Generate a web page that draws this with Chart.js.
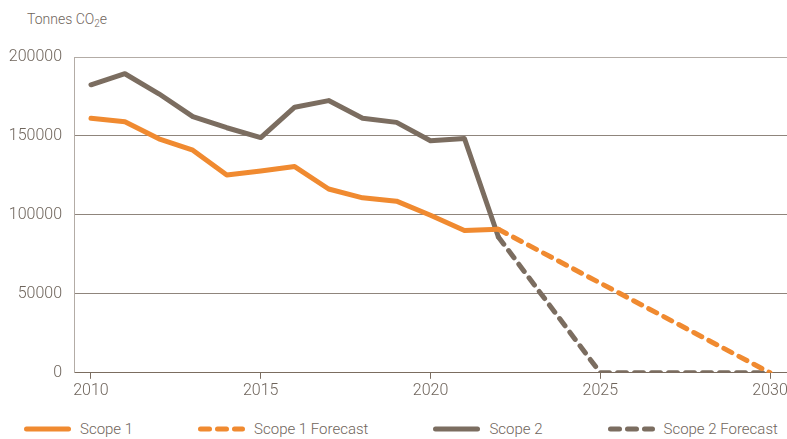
<!DOCTYPE html>
<html>
<head>
<meta charset="utf-8">
<script src="https://cdn.jsdelivr.net/npm/chart.js@4.4.1/dist/chart.umd.min.js"></script>
<style>
  body { margin: 0; background: #fff; }
  #wrap { position: relative; width: 787px; height: 439px; overflow: hidden; font-family: Roboto, sans-serif; font-weight: 300; color: #6f655c; }
  #chart { position: absolute; left: 0; top: 0; }
  #unit { position: absolute; left: 27px; top: 11px; font-size: 14px; white-space: nowrap; }
  #unit sub { font-size: 10px; vertical-align: -3px; }
  #legend { position: absolute; left: 24px; top: 420px; display: flex; gap: 65px; align-items: center; font-size: 15px; white-space: nowrap; }
  .item { display: flex; align-items: center; gap: 9px; }
</style>
</head>
<body>
<div id="wrap">
  <div id="unit">Tonnes CO<sub>2</sub>e</div>
  <canvas id="chart" width="787" height="404"></canvas>
  <div id="legend"></div>
</div>
<script>
const years = [2010, 2011, 2012, 2013, 2014, 2015, 2016, 2017, 2018, 2019, 2020, 2021, 2022];
const scope1 = [161200, 159000, 148200, 141000, 125300, 127800, 130600, 116400, 110800, 108700, 99800, 90100, 90900];
const scope2 = [182400, 189400, 176700, 162200, 155200, 149000, 168200, 172400, 161200, 158600, 147000, 148400, 86000];
const scope1ForecastYears = [2022, 2030];
const scope1Forecast = [90900, 0];
const scope2ForecastYears = [2022, 2025, 2030];
const scope2Forecast = [86000, 0, 0];
const xTicks = [2010, 2015, 2020, 2025, 2030];
const yTicks = [0, 50000, 100000, 150000, 200000];

const orange = "#f08a30";
const brown = "#7b6d60";
const textColor = "#6f655c";

const toPoints = (xs, ys) => xs.map((x, i) => ({ x: x, y: ys[i] }));

const lineStyle = (color, dashed) => ({
  borderColor: color,
  backgroundColor: color,
  borderWidth: 5,
  borderDash: dashed ? [9, 8] : [],
  borderCapStyle: "round",
  borderJoinStyle: "round",
  pointRadius: 0,
  pointHoverRadius: 0,
  tension: 0,
  fill: false,
});

// html legend built from the datasets
const htmlLegend = {
  id: "htmlLegend",
  afterUpdate(chart) {
    const box = document.getElementById("legend");
    box.innerHTML = "";
    chart.data.datasets.forEach((ds) => {
      const dash = ds.borderDash.length ? ' stroke-dasharray="9 8"' : "";
      const item = document.createElement("div");
      item.className = "item";
      item.innerHTML =
        '<svg width="47" height="8"><line x1="2.5" y1="4" x2="44.5" y2="4" stroke="' +
        ds.borderColor + '" stroke-width="5" stroke-linecap="round"' + dash + "/></svg>";
      const label = document.createElement("span");
      label.textContent = ds.label;
      item.appendChild(label);
      box.appendChild(item);
    });
  },
};

Chart.defaults.font.family = "Roboto, sans-serif";
Chart.defaults.font.weight = "300";
Chart.defaults.color = textColor;

new Chart(document.getElementById("chart"), {
  type: "line",
  data: {
    datasets: [
      { label: "Scope 1", data: toPoints(years, scope1), ...lineStyle(orange, false) },
      { label: "Scope 1 Forecast", data: toPoints(scope1ForecastYears, scope1Forecast), ...lineStyle(orange, true) },
      { label: "Scope 2", data: toPoints(years, scope2), ...lineStyle(brown, false) },
      { label: "Scope 2 Forecast", data: toPoints(scope2ForecastYears, scope2Forecast), ...lineStyle(brown, true) },
    ],
  },
  options: {
    responsive: false,
    animation: false,
    layout: { padding: { top: 57, left: 0, right: 0, bottom: 0 } },
    plugins: {
      legend: { display: false },
      tooltip: { enabled: false },
    },
    scales: {
      x: {
        type: "linear",
        min: 2009.5,
        max: 2030.5,
        afterBuildTicks: (axis) => {
          axis.ticks = xTicks.map((v) => ({ value: v }));
        },
        afterFit: (scale) => {
          scale.paddingLeft = 0;
          scale.paddingRight = 0;
        },
        ticks: {
          font: { size: 16 },
          padding: 3,
          maxRotation: 0,
          callback: (v) => String(v),
        },
        grid: {
          drawOnChartArea: false,
          drawTicks: true,
          tickLength: 6,
          color: brown,
        },
        border: { display: true, color: brown, width: 1 },
      },
      y: {
        min: 0,
        max: 200000,
        afterBuildTicks: (axis) => {
          axis.ticks = yTicks.map((v) => ({ value: v }));
        },
        afterFit: (scale) => {
          scale.width = 74;
          scale.paddingTop = 0;
        },
        ticks: {
          font: { size: 16 },
          padding: 12,
          callback: (v) => String(v),
        },
        grid: {
          drawTicks: false,
          color: (c) => (c.tick && c.tick.value === 200000 ? "#b3aca6" : "#8f857c"),
        },
        border: { display: true, color: "#b3aca6", width: 1 },
      },
    },
  },
  plugins: [htmlLegend],
});
</script>
</body>
</html>
